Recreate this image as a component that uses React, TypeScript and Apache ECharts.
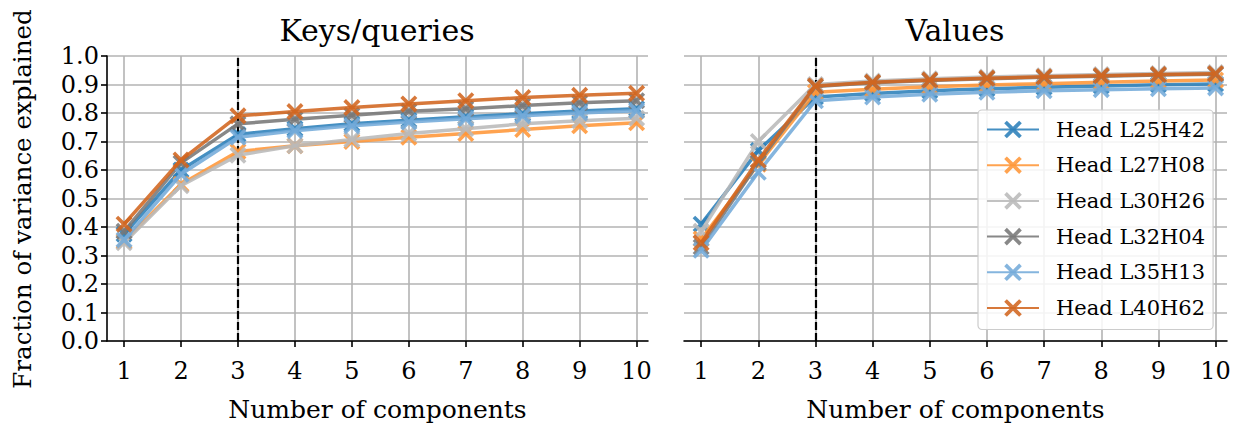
import React, { useEffect, useRef } from "react";
import * as echarts from "echarts";

const components = [1, 2, 3, 4, 5, 6, 7, 8, 9, 10];
const headNames = ["Head L25H42", "Head L27H08", "Head L30H26", "Head L32H04", "Head L35H13", "Head L40H62"];
const headColors = ["#2b7fba", "#ff9638", "#b9b9b9", "#777777", "#74abda", "#d2651f"];
const chosenComponents = 3;

// Keys/queries
const kqL25H42 = [0.375, 0.6, 0.725, 0.745, 0.762, 0.775, 0.787, 0.797, 0.807, 0.815];
const kqL27H08 = [0.35, 0.55, 0.665, 0.685, 0.7, 0.715, 0.728, 0.742, 0.755, 0.766];
const kqL30H26 = [0.345, 0.545, 0.652, 0.685, 0.707, 0.728, 0.745, 0.762, 0.773, 0.782];
const kqL32H04 = [0.385, 0.625, 0.762, 0.778, 0.792, 0.806, 0.815, 0.826, 0.836, 0.843];
const kqL35H13 = [0.355, 0.585, 0.715, 0.738, 0.755, 0.768, 0.78, 0.79, 0.8, 0.808];
const kqL40H62 = [0.41, 0.635, 0.79, 0.805, 0.819, 0.832, 0.843, 0.854, 0.862, 0.869];

// Values
const vL25H42 = [0.41, 0.668, 0.856, 0.868, 0.878, 0.885, 0.89, 0.895, 0.899, 0.902];
const vL27H08 = [0.358, 0.62, 0.873, 0.883, 0.892, 0.898, 0.903, 0.908, 0.912, 0.916];
const vL30H26 = [0.385, 0.7, 0.9, 0.912, 0.92, 0.926, 0.931, 0.935, 0.939, 0.942];
const vL32H04 = [0.33, 0.625, 0.893, 0.906, 0.914, 0.92, 0.925, 0.929, 0.933, 0.936];
const vL35H13 = [0.318, 0.592, 0.843, 0.856, 0.866, 0.873, 0.878, 0.882, 0.885, 0.888];
const vL40H62 = [0.345, 0.635, 0.895, 0.908, 0.916, 0.922, 0.927, 0.931, 0.935, 0.938];

const keysQueries = [kqL25H42, kqL27H08, kqL30H26, kqL32H04, kqL35H13, kqL40H62];
const values = [vL25H42, vL27H08, vL30H26, vL32H04, vL35H13, vL40H62];

const FONT = "DejaVu Serif";
const X_SYMBOL = "path://M0,3 L3,0 L10,7 L17,0 L20,3 L13,10 L20,17 L17,20 L10,13 L3,20 L0,17 L7,10 Z";

function makeSeries(sets: number[][], gridIdx: number) {
  return sets.map((vals, i) => {
    const s: any = {
      type: "line",
      name: headNames[i],
      xAxisIndex: gridIdx,
      yAxisIndex: gridIdx,
      data: components.map((c, j) => [c, vals[j]]),
      symbol: X_SYMBOL,
      symbolSize: 17,
      showSymbol: true,
      lineStyle: { color: headColors[i], width: 3.5, opacity: 0.88 },
      itemStyle: { color: headColors[i], opacity: 0.88 },
      emphasis: { disabled: true },
      z: 3 + i,
    };
    if (i === 0) {
      s.markLine = {
        silent: true,
        symbol: ["none", "none"],
        label: { show: false },
        lineStyle: { color: "#000", type: [8, 3], width: 2.2 },
        data: [{ xAxis: chosenComponents }],
        z: 2,
      };
    }
    return s;
  });
}

function xAxisCfg(gridIdx: number, name: string) {
  return {
    type: "value",
    gridIndex: gridIdx,
    min: 0.7,
    max: 10.2,
    name,
    nameLocation: "middle",
    nameGap: 56,
    nameTextStyle: { fontFamily: FONT, fontSize: 25, color: "#000" },
    axisLine: { show: true, lineStyle: { color: "#000", width: 1.6 } },
    axisTick: { show: true, length: 6, lineStyle: { color: "#000", width: 1.6 }, customValues: components },
    axisLabel: { fontFamily: FONT, fontSize: 24, color: "#000", margin: 18, customValues: components },
    splitLine: { show: true, lineStyle: { color: "#b3b3b3", width: 1.6 } },
  };
}

function yAxisCfg(gridIdx: number, showAxis: boolean) {
  return {
    type: "value",
    gridIndex: gridIdx,
    min: 0,
    max: 1,
    interval: 0.1,
    axisLine: { show: showAxis, lineStyle: { color: "#000", width: 1.6 } },
    axisTick: { show: showAxis, length: 6, lineStyle: { color: "#000", width: 1.6 } },
    axisLabel: {
      show: showAxis,
      fontFamily: FONT,
      fontSize: 24,
      color: "#000",
      margin: 8,
      formatter: (v: number) => v.toFixed(1),
    },
    splitLine: { show: true, lineStyle: { color: "#b3b3b3", width: 1.6 } },
  };
}

export default function App() {
  const ref = useRef<HTMLDivElement>(null);
  useEffect(() => {
    if (!ref.current) return;
    const chart = echarts.init(ref.current, null, { renderer: "svg" });
    chart.setOption({
      animation: false,
      backgroundColor: "#ffffff",
      grid: [
        { left: 107, top: 56, width: 541, height: 285 },
        { left: 684, top: 56, width: 543, height: 285 },
      ],
      xAxis: [xAxisCfg(0, "Number of components"), xAxisCfg(1, "Number of components")],
      yAxis: [yAxisCfg(0, true), yAxisCfg(1, false)],
      legend: {
        orient: "vertical",
        left: 978,
        top: 110,
        data: headNames,
        itemWidth: 52,
        itemHeight: 22,
        itemGap: 14.7,
        padding: [9, 8, 11, 8],
        backgroundColor: "rgba(255,255,255,0.85)",
        borderColor: "#cccccc",
        borderWidth: 1.2,
        borderRadius: 4,
        textStyle: { fontFamily: FONT, fontSize: 21, color: "#000", padding: [0, 0, 0, 12] },
        selectedMode: false,
      },
      graphic: [
        {
          type: "text",
          x: 377,
          y: 30,
          style: { text: "Keys/queries", font: `30px '${FONT}'`, fill: "#000", textAlign: "center", textVerticalAlign: "middle" },
        },
        {
          type: "text",
          x: 955,
          y: 30,
          style: { text: "Values", font: `30px '${FONT}'`, fill: "#000", textAlign: "center", textVerticalAlign: "middle" },
        },
        {
          type: "text",
          x: 22,
          y: 199,
          rotation: Math.PI / 2,
          style: {
            text: "Fraction of variance explained",
            font: `24.5px '${FONT}'`,
            fill: "#000",
            textAlign: "center",
            textVerticalAlign: "middle",
          },
        },
      ],
      series: [...makeSeries(keysQueries, 0), ...makeSeries(values, 1)],
    });
    return () => chart.dispose();
  }, []);
  return <div ref={ref} style={{ position: "absolute", left: 0, top: 0, width: 1240, height: 428 }} />;
}
